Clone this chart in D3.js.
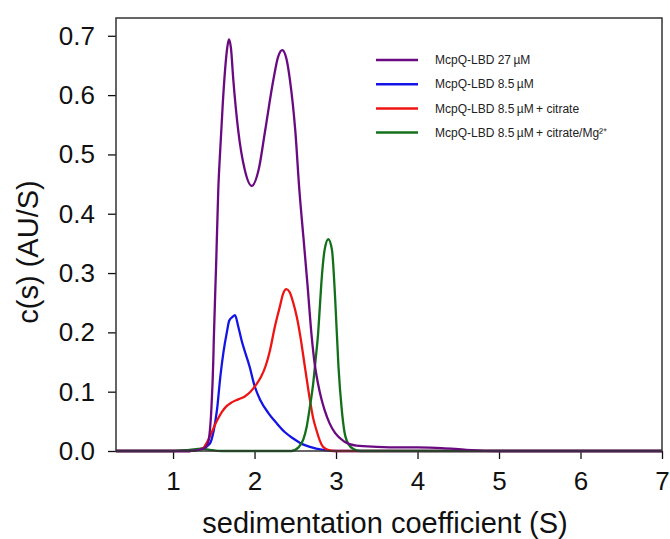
<!DOCTYPE html>
<html lang="en">
<head>
  <meta charset="UTF-8">
  <script src="https://cdnjs.cloudflare.com/ajax/libs/d3/7.8.5/d3.min.js"></script>
  <style>
    body { margin: 0; background: #fff; font-family: 'Liberation Sans', Arial, sans-serif; }
    .tick text { font-family: 'Liberation Sans', Arial, sans-serif; }
  </style>
  <title>c(s) distribution</title>
</head>
<body>
  <div id="chart"></div>
<script>
  // sedimentation coefficient (S) vs c(s) (AU/S)
  const mcpq27 = [
    [0.3, 0], [1.2, 0], [1.36, 0.003], [1.42, 0.01], [1.44, 0.02], [1.47, 0.07], [1.494, 0.153],
    [1.50, 0.187], [1.53, 0.32], [1.555, 0.44], [1.58, 0.51], [1.61, 0.585], [1.64, 0.645],
    [1.665, 0.68], [1.686, 0.694], [1.71, 0.68], [1.74, 0.625], [1.80, 0.54], [1.88, 0.474],
    [1.965, 0.447], [2.05, 0.474], [2.13, 0.54], [2.23, 0.625], [2.29, 0.665], [2.34, 0.676],
    [2.39, 0.662], [2.435, 0.625], [2.50, 0.54], [2.55, 0.44], [2.60, 0.36], [2.65, 0.28],
    [2.70, 0.195], [2.74, 0.145], [2.78, 0.113], [2.82, 0.088], [2.86, 0.069], [2.92, 0.047],
    [2.99, 0.03], [3.1, 0.016], [3.25, 0.009], [3.5, 0.007], [3.8, 0.006], [4.0, 0.006],
    [4.3, 0.005], [4.6, 0.002], [5.0, 0], [7.0, 0]
  ];
  const mcpq85 = [
    [0.3, 0], [1.2, 0], [1.35, 0.003], [1.45, 0.012], [1.50, 0.035], [1.54, 0.07], [1.58, 0.125],
    [1.62, 0.168], [1.66, 0.2], [1.69, 0.22], [1.73, 0.226], [1.76, 0.229], [1.80, 0.21],
    [1.84, 0.187], [1.94, 0.142], [2.0, 0.11], [2.07, 0.086], [2.17, 0.064], [2.27, 0.047],
    [2.37, 0.032], [2.475, 0.021], [2.58, 0.012], [2.68, 0.007], [2.84, 0.002], [3.0, 0], [7.0, 0]
  ];
  const mcpqCitrate = [
    [0.3, 0], [1.2, 0], [1.37, 0.005], [1.41, 0.013], [1.47, 0.03], [1.535, 0.05], [1.60, 0.066],
    [1.66, 0.076], [1.72, 0.082], [1.80, 0.087], [1.88, 0.092], [1.95, 0.10], [2.02, 0.112],
    [2.08, 0.125], [2.14, 0.145], [2.19, 0.17], [2.25, 0.21], [2.31, 0.243], [2.35, 0.265],
    [2.39, 0.273], [2.43, 0.268], [2.475, 0.25], [2.52, 0.225], [2.56, 0.195], [2.62, 0.14],
    [2.68, 0.086], [2.72, 0.055], [2.76, 0.035], [2.80, 0.018], [2.84, 0.007], [2.9, 0.002],
    [3.0, 0], [7.0, 0]
  ];
  const mcpqCitrateMg = [
    [0.3, 0], [1.0, 0], [1.2, 0.002], [1.35, 0.004], [1.45, 0.002], [1.6, 0], [2.45, 0],
    [2.54, 0.006], [2.60, 0.02], [2.64, 0.041], [2.68, 0.075], [2.72, 0.114], [2.75, 0.155],
    [2.78, 0.198], [2.80, 0.24], [2.82, 0.283], [2.86, 0.339], [2.905, 0.357], [2.95, 0.339],
    [2.99, 0.255], [3.03, 0.142], [3.07, 0.07], [3.10, 0.035], [3.15, 0.012], [3.22, 0.003],
    [3.3, 0], [7.0, 0]
  ];

  const seriesNames = ["McpQ-LBD 27\u2009µM", "McpQ-LBD 8.5\u2009µM", "McpQ-LBD 8.5\u2009µM\u2009+ citrate", "McpQ-LBD 8.5\u2009µM\u2009+ citrate/Mg²⁺"];
  const seriesData = [mcpq27, mcpq85, mcpqCitrate, mcpqCitrateMg];
  const seriesColors = ["#6a0a80", "#1414e6", "#ee1414", "#13701a"];
  const xTicks = [1, 2, 3, 4, 5, 6, 7];
  const yTicks = [0, 0.1, 0.2, 0.3, 0.4, 0.5, 0.6, 0.7];

  var margin = { top: 18, right: 8, bottom: 88, left: 116 },
    width = 670 - margin.left - margin.right,
    height = 539 - margin.top - margin.bottom;

  var svg = d3.select("#chart")
    .append("svg")
    .attr("width", 670)
    .attr("height", 539);

  var g = svg.append("g")
    .attr("transform", "translate(" + margin.left + "," + margin.top + ")");

  var x = d3.scaleLinear().domain([0.3, 7.0]).range([0, width]);
  var y = d3.scaleLinear().domain([0, 0.73]).range([height, 0]);

  // x axis
  var xAxis = g.append("g")
    .attr("transform", "translate(0," + height + ")")
    .call(d3.axisBottom(x).tickValues(xTicks).tickFormat(d3.format("d")).tickSize(8).tickPadding(13).tickSizeOuter(0));
  xAxis.selectAll("text").style("font-size", "26px").attr("fill", "#111");

  // y axis
  var yAxis = g.append("g")
    .call(d3.axisLeft(y).tickValues(yTicks).tickFormat(d3.format(".1f")).tickSize(8).tickPadding(13).tickSizeOuter(0));
  yAxis.selectAll("text").style("font-size", "26px").attr("fill", "#111");
  g.selectAll(".domain").remove();
  g.selectAll(".tick line").attr("stroke", "#111").attr("stroke-width", 1.3);

  // curves
  var line = d3.line()
    .x(function (d) { return x(d[0]); })
    .y(function (d) { return y(d[1]); })
    .curve(d3.curveMonotoneX);

  [1, 2, 3, 0].forEach(function (i) {
    g.append("path")
      .datum(seriesData[i])
      .attr("fill", "none")
      .attr("stroke", seriesColors[i])
      .attr("stroke-width", 2.3)
      .attr("stroke-linejoin", "round")
      .attr("d", line);
  });

  // frame
  g.append("rect")
    .attr("x", 0).attr("y", 0)
    .attr("width", width).attr("height", height)
    .attr("fill", "none")
    .attr("stroke", "#333")
    .attr("stroke-width", 1.5);

  // legend
  var legend = svg.append("g").attr("transform", "translate(376,60)");
  seriesNames.forEach(function (name, i) {
    var row = legend.append("g").attr("transform", "translate(0," + (i * 24.2) + ")");
    row.append("line")
      .attr("x1", 0).attr("x2", 42)
      .attr("stroke", seriesColors[i])
      .attr("stroke-width", 2.5);
    row.append("text")
      .attr("x", 59).attr("y", 0)
      .attr("dy", "0.35em")
      .style("font-size", "12px")
      .attr("fill", "#222")
      .text(name);
  });

  // axis titles
  svg.append("text")
    .attr("x", margin.left + width / 2 - 4)
    .attr("y", 533)
    .attr("text-anchor", "middle")
    .style("font-size", "29px")
    .attr("fill", "#111")
    .text("sedimentation coefficient (S)");

  svg.append("text")
    .attr("transform", "translate(38,252) rotate(-90)")
    .attr("text-anchor", "middle")
    .style("font-size", "29px")
    .attr("fill", "#111")
    .text("c(s) (AU/S)");
</script>
</body>
</html>
